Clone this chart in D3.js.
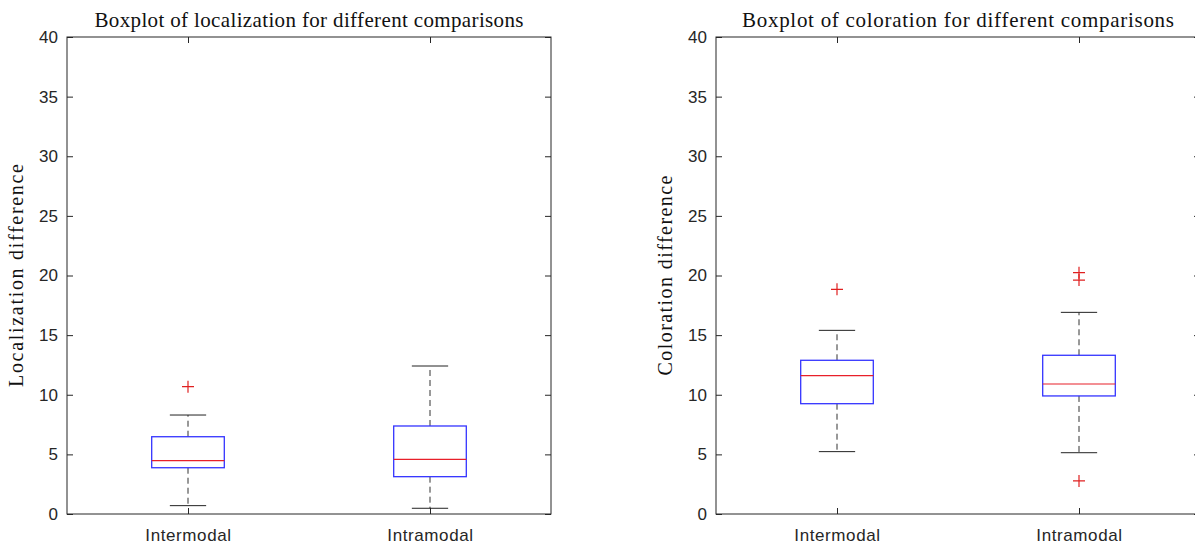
<!DOCTYPE html>
<html>
<head>
<meta charset="utf-8">
<script src="https://cdn.jsdelivr.net/npm/d3@7"></script>
<style>
  body { margin: 0; background: #fff; }
  svg { display: block; }
</style>
</head>
<body>
<div id="chart"></div>
<script>
const categories = ['Intermodal', 'Intramodal'];
const yTicks = [0, 5, 10, 15, 20, 25, 30, 35, 40];

// localization difference
const locWhiskerLow = [0.70, 0.48];
const locQ1 = [3.88, 3.13];
const locMedian = [4.47, 4.58];
const locQ3 = [6.48, 7.38];
const locWhiskerHigh = [8.30, 12.41];
const locOutliers = [[10.68], []];

// coloration difference
const colWhiskerLow = [5.23, 5.14];
const colQ1 = [9.25, 9.90];
const colMedian = [11.60, 10.90];
const colQ3 = [12.89, 13.31];
const colWhiskerHigh = [15.40, 16.91];
const colOutliers = [[18.84], [20.24, 19.62, 2.77]];

const width = 1195;
const height = 546;
const plotW = 484;
const plotH = 477;
const axisColor = '#262626';
const serif = '"Liberation Serif", "DejaVu Serif", serif';
const sans = '"Liberation Sans", Arial, sans-serif';

const svg = d3.select('#chart')
  .append('svg')
  .attr('width', width)
  .attr('height', height);

function drawPanel(left, title, titleLen, yLabel, yLabelLen, lo, q1, med, q3, hi, outliers) {
  const g = svg.append('g')
    .attr('transform', `translate(${left},37)`);

  const x = d3.scalePoint()
    .domain(categories)
    .range([0, plotW])
    .padding(0.5);

  const y = d3.scaleLinear()
    .domain([0, 40])
    .range([plotH, 0]);

  const boxW = x.step() * 0.3;
  const capW = boxW / 2;

  const stats = categories.map((c, i) => ({
    cat: c, lo: lo[i], q1: q1[i], med: med[i], q3: q3[i], hi: hi[i], out: outliers[i]
  }));

  // axes, ticks point inward like matlab
  const styleAxis = sel => {
    sel.select('.domain').remove();
    sel.selectAll('line').attr('stroke', axisColor);
    sel.selectAll('text')
      .attr('fill', axisColor)
      .style('font-family', sans)
      .style('font-size', '17px');
  };

  g.append('g')
    .call(d3.axisLeft(y).tickValues(yTicks).tickSize(-6).tickPadding(9))
    .call(styleAxis);

  g.append('g')
    .attr('transform', `translate(${plotW},0)`)
    .call(d3.axisRight(y).tickValues(yTicks).tickSize(-6).tickFormat(''))
    .call(styleAxis);

  g.append('g')
    .attr('transform', `translate(0,${plotH})`)
    .call(d3.axisBottom(x).tickSize(-6).tickPadding(15))
    .call(styleAxis)
    .selectAll('text')
    .style('letter-spacing', '0.6px');

  g.append('g')
    .call(d3.axisTop(x).tickSize(-6).tickFormat(''))
    .call(styleAxis);

  g.append('rect')
    .attr('width', plotW)
    .attr('height', plotH)
    .attr('fill', 'none')
    .attr('stroke', axisColor)
    .attr('stroke-width', 1);

  const box = g.selectAll('.box')
    .data(stats)
    .enter()
    .append('g')
    .attr('class', 'box');

  // whiskers
  box.append('line')
    .attr('x1', d => x(d.cat)).attr('x2', d => x(d.cat))
    .attr('y1', d => y(d.q3)).attr('y2', d => y(d.hi))
    .attr('stroke', '#333').attr('stroke-dasharray', '6,4');
  box.append('line')
    .attr('x1', d => x(d.cat)).attr('x2', d => x(d.cat))
    .attr('y1', d => y(d.q1)).attr('y2', d => y(d.lo))
    .attr('stroke', '#333').attr('stroke-dasharray', '6,4');

  // caps
  box.append('line')
    .attr('x1', d => x(d.cat) - capW / 2).attr('x2', d => x(d.cat) + capW / 2)
    .attr('y1', d => y(d.hi)).attr('y2', d => y(d.hi))
    .attr('stroke', '#222');
  box.append('line')
    .attr('x1', d => x(d.cat) - capW / 2).attr('x2', d => x(d.cat) + capW / 2)
    .attr('y1', d => y(d.lo)).attr('y2', d => y(d.lo))
    .attr('stroke', '#222');

  box.append('rect')
    .attr('x', d => x(d.cat) - boxW / 2)
    .attr('y', d => y(d.q3))
    .attr('width', boxW)
    .attr('height', d => y(d.q1) - y(d.q3))
    .attr('fill', 'none')
    .attr('stroke', '#3434ff')
    .attr('stroke-width', 1.3);

  box.append('line')
    .attr('x1', d => x(d.cat) - boxW / 2).attr('x2', d => x(d.cat) + boxW / 2)
    .attr('y1', d => y(d.med)).attr('y2', d => y(d.med))
    .attr('stroke', '#e8202a').attr('stroke-width', 1.2);

  // outliers as red plus signs
  const pts = stats.flatMap(d => d.out.map(v => ({ cat: d.cat, v })));
  g.selectAll('.outlier')
    .data(pts)
    .enter()
    .append('path')
    .attr('class', 'outlier')
    .attr('transform', d => `translate(${x(d.cat)},${y(d.v)})`)
    .attr('d', 'M-6,0H6M0,-6V6')
    .attr('stroke', '#e02020')
    .attr('stroke-width', 1.2);

  g.append('text')
    .attr('x', plotW / 2)
    .attr('y', -10)
    .attr('text-anchor', 'middle')
    .attr('textLength', titleLen)
    .attr('lengthAdjust', 'spacing')
    .style('font-family', serif)
    .style('font-size', '21px')
    .attr('fill', '#111')
    .text(title);

  g.append('text')
    .attr('transform', 'rotate(-90)')
    .attr('x', -plotH / 2)
    .attr('y', -44)
    .attr('text-anchor', 'middle')
    .attr('textLength', yLabelLen)
    .attr('lengthAdjust', 'spacing')
    .style('font-family', serif)
    .style('font-size', '20px')
    .attr('fill', '#111')
    .text(yLabel);
}

drawPanel(67, 'Boxplot of localization for different comparisons', 429, 'Localization difference', 223,
  locWhiskerLow, locQ1, locMedian, locQ3, locWhiskerHigh, locOutliers);
drawPanel(716, 'Boxplot of coloration for different comparisons', 432, 'Coloration difference', 200,
  colWhiskerLow, colQ1, colMedian, colQ3, colWhiskerHigh, colOutliers);
</script>
</body>
</html>
